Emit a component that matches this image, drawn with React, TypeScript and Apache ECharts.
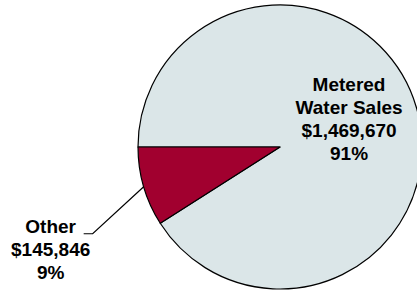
import React, { useEffect, useRef } from "react";
import * as echarts from "echarts";

const categories = ["Metered\nWater Sales", "Other"];
const values = [1469670, 145846];
const colors = ["#dbe6e8", "#a1002f"];

export default function App() {
  const ref = useRef<HTMLDivElement>(null);
  useEffect(() => {
    if (!ref.current) return;
    const chart = echarts.init(ref.current, null, { renderer: "svg" });
    chart.setOption({
      animation: false,
      backgroundColor: "#ffffff",
      series: [
        {
          type: "pie",
          center: [280, 147],
          radius: 142,
          startAngle: 180,
          clockwise: true,
          avoidLabelOverlap: false,
          data: categories.map((name, i) => ({
            name,
            value: values[i],
            itemStyle: { color: colors[i] },
            label: { position: i === 0 ? "inside" : "outside" },
            labelLine: { show: i !== 0 },
          })),
          itemStyle: { borderColor: "#000", borderWidth: 1.2 },
          label: {
            formatter: (p: any) =>
              `${p.name}\n$${Number(p.value).toLocaleString("en-US")}\n${Math.round(p.percent)}%`,
            fontFamily: "'Liberation Sans', Arial, sans-serif",
            fontWeight: "bold",
            fontSize: 19,
            lineHeight: 23,
            color: "#000",
            align: "center",
          },
          labelLine: {
            lineStyle: { color: "#000", width: 1.2 },
            length: 20,
            length2: 10,
          },
          labelLayout: (params: any) => {
            if (params.dataIndex === 0) {
              return { dx: -2, dy: -7 };
            }
            const pts = params.labelLinePoints;
            if (!pts) return {};
            const p0 = pts[0];
            const p1 = [p0[0] - 51, p0[1] + 47];
            const p2 = [p1[0] - 9, p1[1]];
            return {
              x: p2[0] - 33,
              y: p2[1] + 15.5,
              align: "center",
              verticalAlign: "middle",
              labelLinePoints: [p0, p1, p2],
            };
          },
        },
      ],
    });
    return () => chart.dispose();
  }, []);
  return (
    <div
      ref={ref}
      style={{ position: "absolute", left: 0, top: 0, width: 417, height: 290 }}
    />
  );
}
